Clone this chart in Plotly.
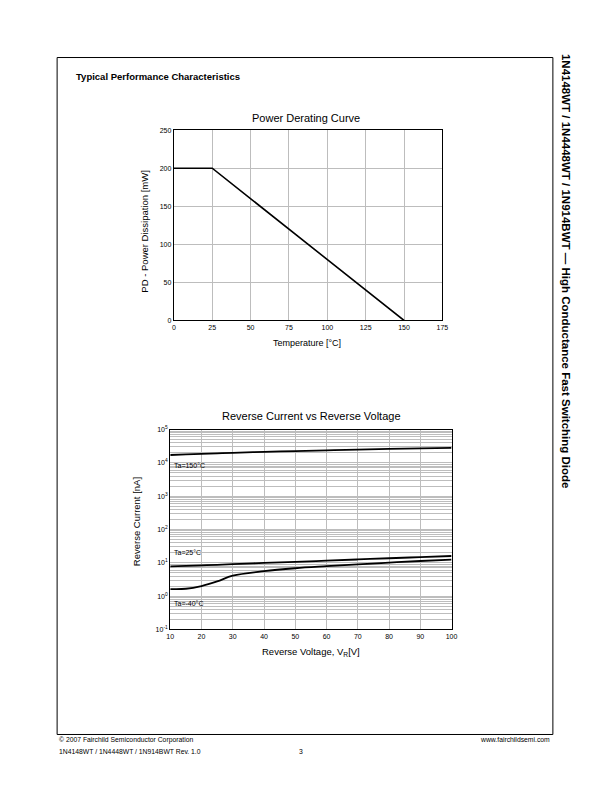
import plotly.graph_objects as go

# ---- data ----
temp_c = [0, 25, 150]
power_mw = [200, 200, 0]

vr = [10, 15, 20, 25, 30, 40, 50, 60, 70, 80, 90, 100]
ir_150 = [17200, 17900, 18600, 19300, 20000, 21300, 22600, 23800, 25000, 26100, 27200, 28300]
ir_25 = [7.8, 8.1, 8.4, 8.7, 9.1, 9.9, 10.7, 11.6, 12.6, 13.7, 14.8, 16.0]
ir_m40 = [1.63, 1.66, 2.0, 2.75, 4.1, 5.6, 6.85, 7.9, 9.0, 10.1, 11.3, 12.4]

x1_ticks = [0, 25, 50, 75, 100, 125, 150, 175]
y1_ticks = [0, 50, 100, 150, 200, 250]
x2_ticks = [10, 20, 30, 40, 50, 60, 70, 80, 90, 100]
decades = [-1, 0, 1, 2, 3, 4, 5]

W, H = 612, 792
FONT = "Liberation Sans, Arial, Helvetica, sans-serif"
GRID = "#bdbdbd"

def px(x):
    return x / W

def py(y):
    return 1 - y / H

# log tick values (grid on every 1..9 multiple)
y2_vals, y2_text = [], []
for d in decades:
    for k in range(1, 10):
        if d == 5 and k > 1:
            break
        y2_vals.append(k * 10.0 ** d)
        y2_text.append(f"10<sup>{d}</sup>" if k == 1 else "")

fig = go.Figure()
fig.add_trace(go.Scatter(x=temp_c, y=power_mw, mode="lines",
                         line=dict(color="black", width=1.6),
                         xaxis="x", yaxis="y", showlegend=False))
for ys in (ir_150, ir_25, ir_m40):
    fig.add_trace(go.Scatter(x=vr, y=ys, mode="lines", line_shape="spline",
                             line=dict(color="black", width=1.8),
                             xaxis="x2", yaxis="y2", showlegend=False))

axis_common = dict(showline=True, mirror=True, linecolor="black", linewidth=1.2,
                   showgrid=True, gridcolor=GRID, gridwidth=1, zeroline=False,
                   ticks="", tickfont=dict(family=FONT, size=7, color="black"))

fig.update_layout(
    width=W, height=H, margin=dict(l=0, r=0, t=0, b=0),
    paper_bgcolor="white", plot_bgcolor="white",
    xaxis=dict(domain=[px(172.7), px(445.7)], range=[0, 175], tickvals=x1_ticks,
               anchor="y", **axis_common),
    yaxis=dict(domain=[py(319.3), py(127.3)], range=[0, 250], tickvals=y1_ticks,
               anchor="x", **axis_common),
    xaxis2=dict(domain=[px(169), px(455)], range=[10, 100], tickvals=x2_ticks,
                anchor="y2", **axis_common),
    yaxis2=dict(domain=[py(631), py(429.3)], type="log", range=[-1, 5],
                tickvals=y2_vals, ticktext=y2_text, anchor="x2", **axis_common),
)

def ann(text, x, y, size, xanchor="center", yanchor="middle", angle=0, bold=False):
    if bold:
        text = f"<b>{text}</b>"
    fig.add_annotation(text=text, x=px(x), y=py(y), xref="paper", yref="paper",
                       showarrow=False, xanchor=xanchor, yanchor=yanchor,
                       textangle=angle, font=dict(family=FONT, size=size, color="black"))

# page text
ann("Typical Performance Characteristics", 71, 73, 9.5, xanchor="left", bold=True)
ann("1N4148WT / 1N4448WT / 1N914BWT — High Conductance Fast Switching Diode",
    572, 270, 11.5, angle=90, bold=True)
ann("© 2007 Fairchild Semiconductor Corporation", 54, 742.5, 6.8, xanchor="left")
ann("1N4148WT / 1N4448WT / 1N914BWT Rev. 1.0", 54, 754, 6.8, xanchor="left")
ann("3", 302, 754, 6.8)
ann("www.fairchildsemi.com", 557, 742.5, 6.8, xanchor="right")

# chart 1 text
ann("Power Derating Curve", 307, 115, 11)
ann("Temperature [°C]", 308, 342, 9)
ann("PD - Power Dissipation [mW]", 143, 230, 9.5, angle=-90)

# chart 2 text
ann("Reverse Current vs Reverse Voltage", 313, 415.5, 11)
ann("Reverse Voltage, V<sub>R</sub>[V]", 312, 654, 9.5)
ann("Reverse Current [nA]", 135, 522, 9.5, angle=-90)
ann("Ta=150°C", 171, 465.5, 7, xanchor="left")
ann("Ta=25°C", 171, 553, 7, xanchor="left")
ann("Ta=-40°C", 171, 604.5, 7, xanchor="left")

# page border
fig.add_shape(type="rect", xref="paper", yref="paper",
              x0=px(54), x1=px(558), y0=py(737), y1=py(54),
              line=dict(color="black", width=1), fillcolor="rgba(0,0,0,0)", layer="below")

post = (
    "document.documentElement.style.margin='0';"
    "document.body.style.margin='0';"
    "document.body.style.overflow='hidden';"
    "document.documentElement.style.overflow='hidden';"
    "var d=document.getElementById('{plot_id}');"
    "d.style.position='fixed';d.style.left='0px';d.style.top='0px';"
)

fig.write_html("out.html", config={"displayModeBar": False}, post_script=post)
